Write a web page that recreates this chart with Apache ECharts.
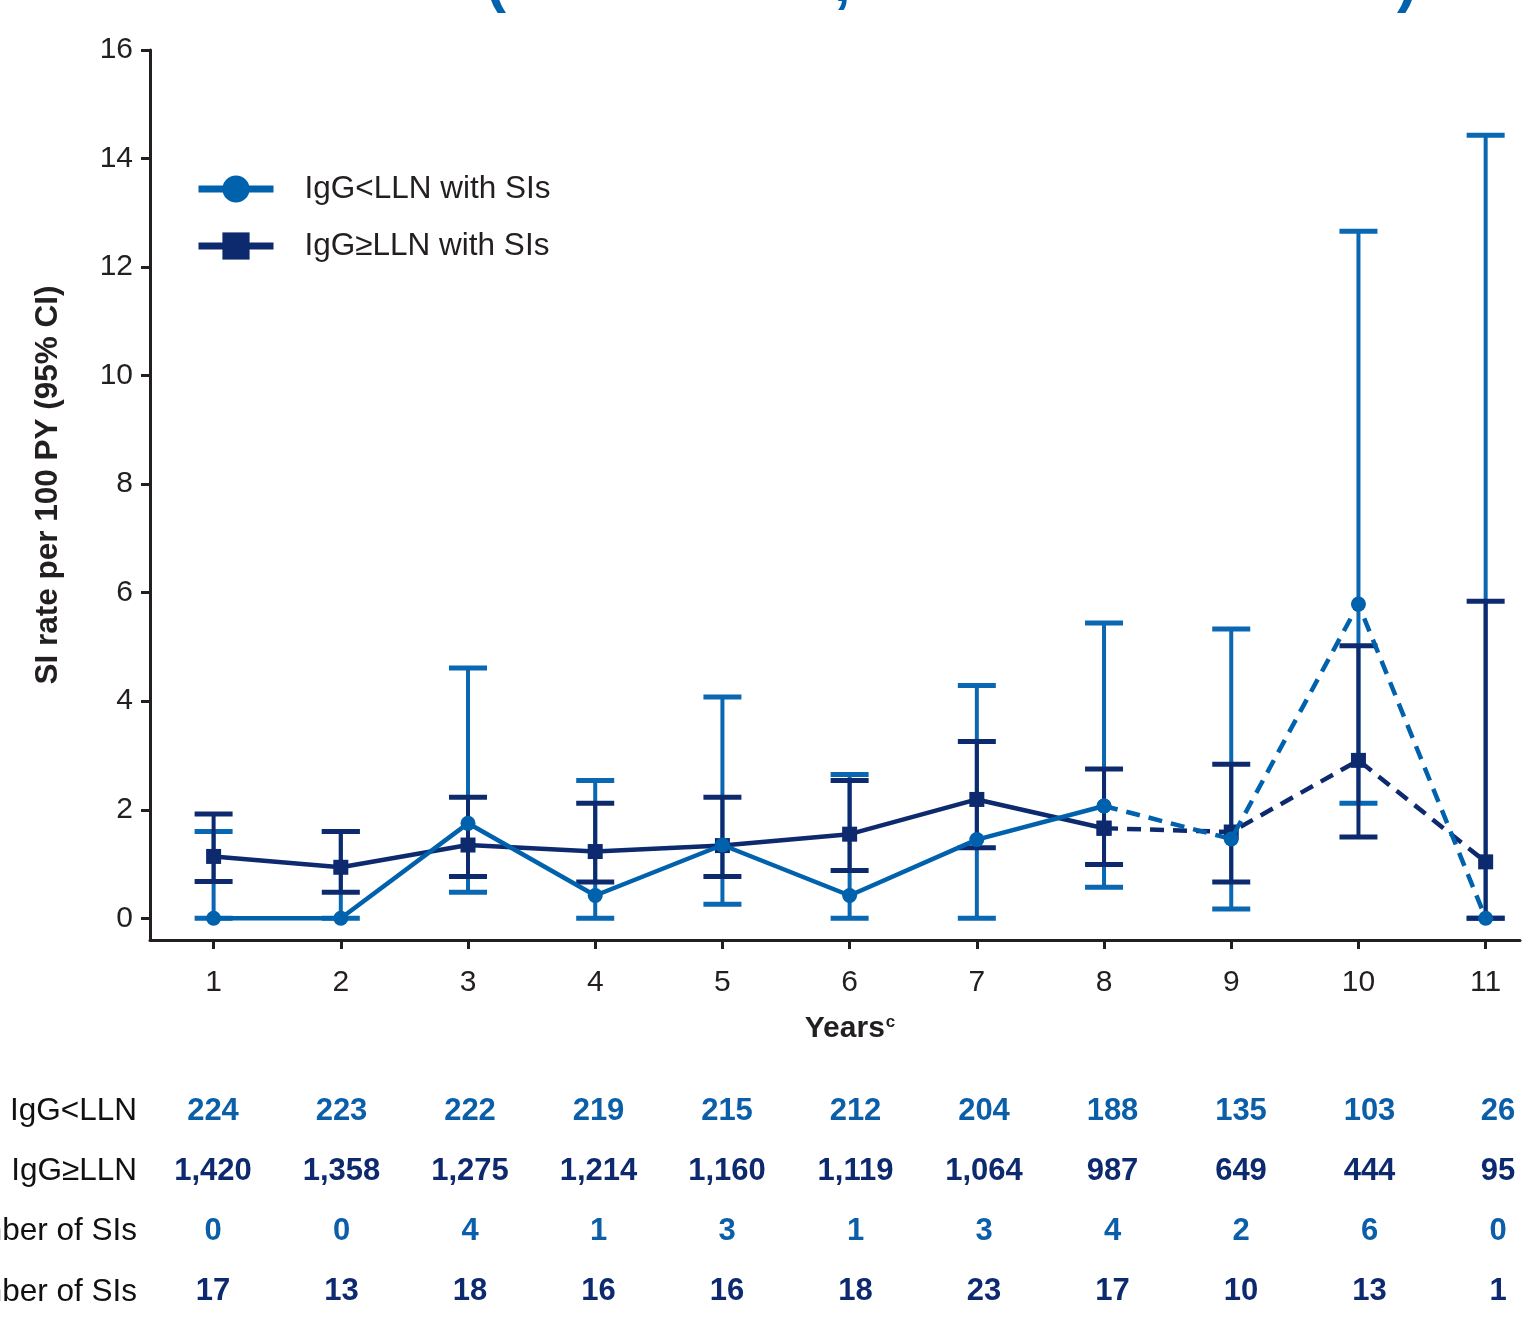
<!DOCTYPE html>
<html><head><meta charset="utf-8">
<script src="https://cdn.jsdelivr.net/npm/echarts@6/dist/echarts.min.js"></script>
<style>html,body{margin:0;padding:0;background:#fff}#c{width:1523px;height:1333px}</style>
</head><body><div id="c"></div>
<script>
// ---------- data ----------
const years = [1, 2, 3, 4, 5, 6, 7, 8, 9, 10, 11];
const lastSolidYear = 8;
const seriesLowName = 'IgG<LLN with SIs';
const seriesHighName = 'IgG≥LLN with SIs';
const lowRate     = [0, 0, 1.75, 0.42, 1.35, 0.42, 1.45, 2.07, 1.46, 5.79, 0];
const lowCILower  = [0, 0, 0.48, 0, 0.26, 0, 0, 0.57, 0.17, 2.12, 0];
const lowCIUpper  = [1.60, 1.60, 4.61, 2.54, 4.08, 2.65, 4.29, 5.44, 5.33, 12.66, 14.43];
const highRate    = [1.14, 0.94, 1.35, 1.23, 1.34, 1.55, 2.19, 1.66, 1.59, 2.91, 1.04];
const highCILower = [0.68, 0.48, 0.77, 0.67, 0.77, 0.88, 1.30, 0.99, 0.67, 1.50, 0];
const highCIUpper = [1.92, 1.60, 2.23, 2.12, 2.23, 2.54, 3.26, 2.75, 2.84, 5.02, 5.84];
const yTicks = [0, 2, 4, 6, 8, 10, 12, 14, 16];
const yAxisTitle = 'SI rate per 100 PY (95% CI)';
const xAxisTitle = 'Years';
const xAxisTitleSup = 'c';
const tableLabels = ['IgG<LLN', 'IgG≥LLN', 'Number of SIs', 'Number of SIs'];
const atRiskLow  = [224, 223, 222, 219, 215, 212, 204, 188, 135, 103, 26];
const atRiskHigh = [1420, 1358, 1275, 1214, 1160, 1119, 1064, 987, 649, 444, 95];
const siLow  = [0, 0, 4, 1, 3, 1, 3, 4, 2, 6, 0];
const siHigh = [17, 13, 18, 16, 16, 18, 23, 17, 10, 13, 1];
const titleGlyphs = ['(', ',', ')'];

// ---------- style ----------
const FONT = '"Liberation Sans", Arial, Helvetica, sans-serif';
const C_LOW = '#0061ad';
const C_LOW_ERR = '#0a67b2';
const C_HIGH = '#0e2a6f';
const C_AXIS = '#231f20';

const chart = echarts.init(document.getElementById('c'), null, {renderer: 'canvas'});

function pts(vals, from, to) {
  return years.map((y, i) => (y >= from && y <= to) ? [y, vals[i]] : null).filter(Boolean);
}

function errSeries(name, lo, hi, color, z) {
  return {
    type: 'custom', name: name, z: z, silent: true, clip: false,
    data: years.map((y, i) => [y, lo[i], hi[i]]),
    encode: {x: 0, y: [1, 2]},
    renderItem: function (params, api) {
      const x = api.value(0);
      const a = api.coord([x, api.value(1)]);
      const b = api.coord([x, api.value(2)]);
      const w = 19;
      return {
        type: 'group',
        children: [
          {type: 'line', shape: {x1: a[0], y1: a[1], x2: b[0], y2: b[1]}, style: {stroke: color, lineWidth: 4}},
          {type: 'line', shape: {x1: a[0] - w, y1: a[1], x2: a[0] + w, y2: a[1]}, style: {stroke: color, lineWidth: 5}},
          {type: 'line', shape: {x1: b[0] - w, y1: b[1], x2: b[0] + w, y2: b[1]}, style: {stroke: color, lineWidth: 5}}
        ]
      };
    }
  };
}

function lineSeries(name, vals, color, symbol, dashed, z) {
  return {
    type: 'line', name: name, z: z,
    data: dashed ? pts(vals, lastSolidYear, 99) : pts(vals, -99, lastSolidYear),
    symbol: symbol, symbolSize: 15, showSymbol: true,
    lineStyle: {color: color, width: 4.5, type: dashed ? [14, 9] : 'solid'},
    itemStyle: {color: color},
    emphasis: {disabled: true}
  };
}

const option = {
  animation: false,
  backgroundColor: '#fff',
  grid: {left: 150, right: 3, top: 50, bottom: 393, containLabel: false},
  legend: {
    orient: 'vertical', left: 195, top: 173, padding: 0,
    itemWidth: 75, itemHeight: 34, itemGap: 25,
    data: [seriesLowName, seriesHighName],
    lineStyle: {width: 7, type: 'solid'},
    textStyle: {fontFamily: FONT, fontSize: 31.5, color: C_AXIS, padding: [0, 0, 0, 26]},
    selectedMode: false
  },
  xAxis: {
    type: 'value', min: 0.5, max: 11.27,
    name: '{b|' + xAxisTitle + '}{s|' + xAxisTitleSup + '}',
    nameLocation: 'middle', nameGap: 74,
    nameTextStyle: {
      rich: {
        b: {fontFamily: FONT, fontSize: 30, fontWeight: 'bold', color: C_AXIS},
        s: {fontFamily: FONT, fontSize: 17, fontWeight: 'bold', color: C_AXIS, verticalAlign: 'top', padding: [0, 0, 10, 1]}
      },
      padding: [0, 0, 0, 30]
    },
    splitLine: {show: false},
    axisLine: {show: true, onZero: false, lineStyle: {color: C_AXIS, width: 3}},
    axisTick: {show: true, length: 9, lineStyle: {color: C_AXIS, width: 3}, customValues: years},
    axisLabel: {show: true, customValues: years, margin: 28, fontFamily: FONT, fontSize: 30, color: C_AXIS}
  },
  yAxis: {
    type: 'value', min: -0.4, max: 16,
    name: yAxisTitle, nameLocation: 'middle', nameRotate: 90, nameGap: 86,
    nameTextStyle: {fontFamily: FONT, fontSize: 31.5, fontWeight: 'bold', color: C_AXIS, padding: [0, 0, 0, 20]},
    splitLine: {show: false},
    axisLine: {show: true, onZero: false, lineStyle: {color: C_AXIS, width: 3}},
    axisTick: {show: true, length: 9, lineStyle: {color: C_AXIS, width: 3}, customValues: yTicks},
    axisLabel: {show: true, customValues: yTicks, margin: 17, fontFamily: FONT, fontSize: 30, color: C_AXIS}
  },
  series: [
    errSeries('errLow', lowCILower, lowCIUpper, C_LOW_ERR, 1),
    errSeries('errHigh', highCILower, highCIUpper, C_HIGH, 2),
    lineSeries(seriesHighName, highRate, C_HIGH, 'rect', false, 3),
    lineSeries(seriesHighName, highRate, C_HIGH, 'rect', true, 3),
    lineSeries(seriesLowName, lowRate, C_LOW, 'circle', false, 4),
    lineSeries(seriesLowName, lowRate, C_LOW, 'circle', true, 4)
  ]
};
chart.setOption(option);

// ---------- table below the chart & clipped title ----------
const graphics = [];
const rows = [
  {vals: atRiskLow, color: '#0b5ea8'},
  {vals: atRiskHigh, color: C_HIGH},
  {vals: siLow, color: '#0b5ea8'},
  {vals: siHigh, color: C_HIGH}
];
const rowY0 = 1111, rowStep = 60.3, colX0 = 213, colStep = 128.5;
rows.forEach((r, ri) => {
  const y = rowY0 + ri * rowStep;
  graphics.push({type: 'text', x: 137, y: y, style: {text: tableLabels[ri], fontFamily: FONT, fontSize: 31.5, fill: '#111', align: 'right', verticalAlign: 'middle'}});
  r.vals.forEach((v, ci) => {
    graphics.push({type: 'text', x: colX0 + ci * colStep, y: y, style: {text: v.toLocaleString('en-US'), fontFamily: FONT, fontSize: 31, fontWeight: 'bold', fill: r.color, align: 'center', verticalAlign: 'middle'}});
  });
});
const glyphX = [486, 834, 1397];
titleGlyphs.forEach((g, i) => {
  graphics.push({type: 'text', x: glyphX[i], y: -16, style: {text: g, fontFamily: FONT, fontSize: 60, fontWeight: 'bold', fill: C_LOW, align: 'left', verticalAlign: 'middle'}});
});
chart.setOption({graphic: {elements: graphics}});
</script>
</body></html>
